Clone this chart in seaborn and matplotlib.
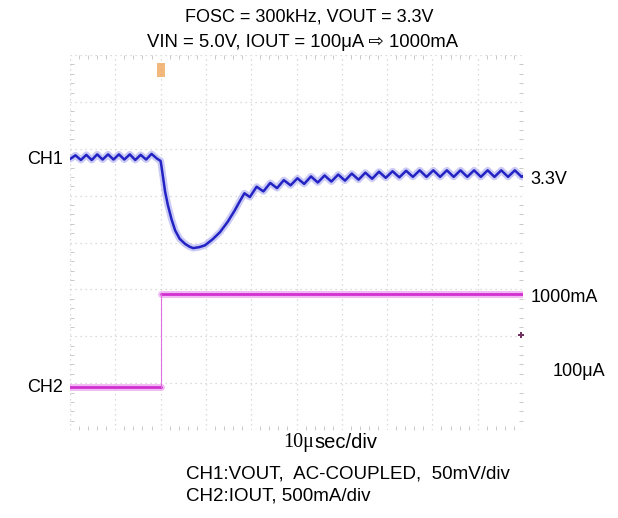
import matplotlib
matplotlib.use('Agg')
import numpy as np
import pandas as pd
import matplotlib.pyplot as plt
from matplotlib.ticker import MultipleLocator
import seaborn as sb

# scope graticule: 10 divisions across, 8 divisions up
# CH1 (VOUT, AC coupled) trace vertices, in divisions
ch1_t = [0.00, 0.12, 0.24, 0.36, 0.48, 0.60, 0.72, 0.84, 0.96, 1.08, 1.20, 1.32,
         1.44, 1.56, 1.68, 1.80, 1.92, 2.00,
         2.02, 2.06, 2.10, 2.16, 2.24, 2.32, 2.42, 2.54, 2.64, 2.72, 2.85, 2.98,
         3.15, 3.31, 3.48, 3.64, 3.76, 3.85,
         3.97, 4.12, 4.27, 4.42, 4.57, 4.72, 4.87, 5.02, 5.17, 5.32, 5.47, 5.62,
         5.77, 5.92, 6.07, 6.22, 6.37, 6.52, 6.67, 6.82, 6.97, 7.12, 7.27, 7.42,
         7.57, 7.72, 7.87, 8.02, 8.17, 8.32, 8.47, 8.62, 8.77, 8.92, 9.07, 9.22,
         9.37, 9.52, 9.67, 9.82, 9.97, 10.00]
ch1_v = [5.78, 5.86, 5.76, 5.87, 5.76, 5.88, 5.77, 5.88, 5.77, 5.88, 5.77, 5.88,
         5.76, 5.87, 5.77, 5.89, 5.79, 5.74,
         5.62, 5.35, 5.08, 4.80, 4.50, 4.26, 4.08, 3.97, 3.91, 3.88, 3.90, 3.94,
         4.07, 4.22, 4.44, 4.69, 4.90, 5.05,
         4.97, 5.19, 5.09, 5.27, 5.16, 5.33, 5.22, 5.37, 5.25, 5.41, 5.28, 5.43,
         5.30, 5.45, 5.32, 5.47, 5.34, 5.49, 5.36, 5.51, 5.38, 5.52, 5.39, 5.53,
         5.40, 5.54, 5.40, 5.54, 5.40, 5.54, 5.40, 5.54, 5.40, 5.54, 5.40, 5.54,
         5.40, 5.54, 5.40, 5.54, 5.40, 5.42]

# CH2 (IOUT) load step 100uA -> 1000mA
ch2_t = [0.0, 2.0, 2.0, 10.0]
ch2_v = [0.92, 0.92, 2.90, 2.90]

trig_pos = (2.0, 7.68)
mark_pos = (9.95, 2.02)

df1 = pd.DataFrame({'t': ch1_t, 'v': ch1_v})
lo = pd.DataFrame({'t': ch2_t[:2], 'v': ch2_v[:2]})
hi = pd.DataFrame({'t': ch2_t[2:], 'v': ch2_v[2:]})

sb.set_style("white")
plt.rcParams['font.family'] = ['Liberation Sans', 'DejaVu Sans']
plt.rcParams['text.color'] = 'black'

fig = plt.figure(figsize=(6.18, 5.18), dpi=100)
ax = fig.add_axes([70/618, 1-430/518, 453/618, 375/518])

# glow + core, like the scope phosphor
sb.lineplot(data=df1, x='t', y='v', sort=False, ax=ax, color='#b4b4f2', lw=5, alpha=0.7)
sb.lineplot(data=df1, x='t', y='v', sort=False, ax=ax, color='#2323c4', lw=1.8)
for seg in (lo, hi):
    sb.lineplot(data=seg, x='t', y='v', sort=False, ax=ax, color='#f0a8f0', lw=5, alpha=0.8)
    sb.lineplot(data=seg, x='t', y='v', sort=False, ax=ax, color='#d030d0', lw=2)
ax.plot(ch2_t[1:3], ch2_v[1:3], color='#e070e0', lw=0.8)

# trigger tag at top of screen
tag = [(-0.6, -1.0), (0.6, -1.0), (0.6, 1.0), (-0.6, 1.0)]
ax.scatter([trig_pos[0]], [trig_pos[1]], marker=tag, s=110, color='#f0a050', alpha=0.75, lw=0)
ax.scatter([mark_pos[0]], [mark_pos[1]], marker='P', s=18, color='#703060', lw=0)

ax.set_xlim(0, 10)
ax.set_ylim(0, 8)
ax.xaxis.set_major_locator(MultipleLocator(1))
ax.yaxis.set_major_locator(MultipleLocator(1))
ax.xaxis.set_minor_locator(MultipleLocator(0.2))
ax.yaxis.set_minor_locator(MultipleLocator(0.2))
ax.grid(True, which='major', color='#d0d0d0', linestyle=(0, (1, 3)), lw=0.9)
ax.tick_params(which='major', length=0, labelbottom=False, labelleft=False)
ax.tick_params(which='minor', direction='in', length=3, width=0.6, color='#c0c0c0',
               top=True, right=True, bottom=True, left=True)
ax.set_xlabel('')
ax.set_ylabel('')
for s in ax.spines.values():
    s.set_visible(False)

def ftext(x, y, s, size=13, **kw):
    fig.text(x/618, 1-y/518, s, va='center', fontsize=size, color='black', **kw)

ftext(309, 17, 'FOSC = 300kHz, VOUT = 3.3V', ha='center')
ftext(303, 42, 'VIN = 5.0V, IOUT = 100\u03bcA \u21e8 1000mA', size=13.3, ha='center')
ftext(27, 160, 'CH1', ha='left')
ftext(27, 387, 'CH2', ha='left')
ftext(530, 180, '3.3V', ha='left')
ftext(531, 298, '1000mA', ha='left')
ftext(553, 371, '100\u03bcA', ha='left')
fig.text(314/618, 1-443/518, '10\u03bc', ha='right', va='center', fontsize=14.5,
         color='black', family=['Liberation Serif', 'DejaVu Serif'])
ftext(314, 443, 'sec/div', size=14.5, ha='left')
ftext(186, 474, 'CH1:VOUT,  AC-COUPLED,  50mV/div', size=13.5, ha='left')
ftext(186, 496, 'CH2:IOUT, 500mA/div', size=13.5, ha='left')

plt.savefig('out.png', dpi=100)
